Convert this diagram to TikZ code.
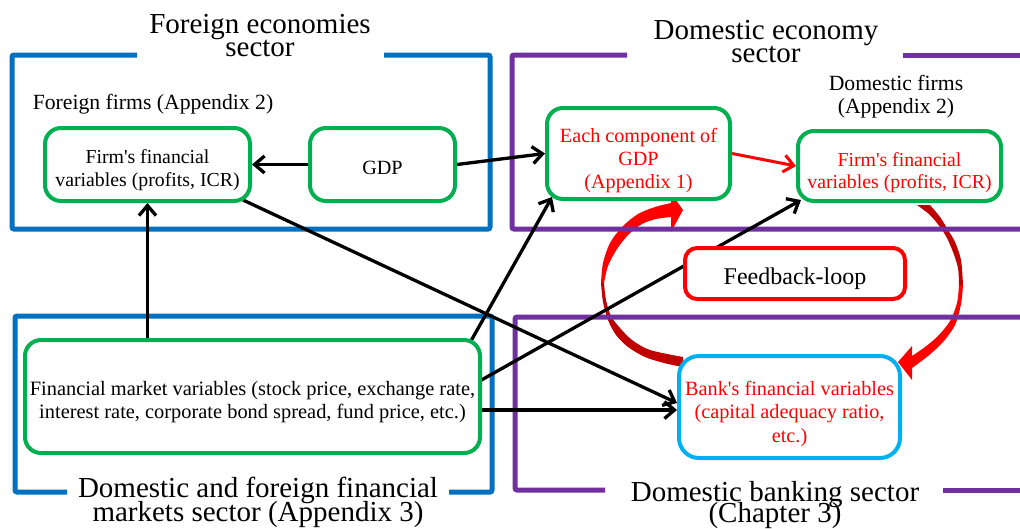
\documentclass[tikz,border=0pt]{standalone}
\usepackage{fontspec}
\setmainfont{Liberation Serif}
\usetikzlibrary{arrows.meta,calc}

\definecolor{secblue}{HTML}{0070C0}
\definecolor{secpurple}{HTML}{7030A0}
\definecolor{boxgreen}{HTML}{00B050}
\definecolor{loopred}{HTML}{FF0000}
\definecolor{loopdark}{HTML}{C00000}
\definecolor{bankcyan}{HTML}{00B0F0}

\newcommand\fsz[2]{\fontsize{#1}{#2}\selectfont\lineskiplimit=-100pt\relax}

\pgfdeclarelayer{back}
\pgfsetlayers{back,main}

\tikzset{
  secframe/.style={line width=5pt, rounded corners=2pt},
  sectitle/.style={inner sep=0pt, align=center, font=\fsz{29}{23}},
  lbl/.style={inner sep=0pt, align=center, font=\fsz{21.7}{23}},
  roundbox/.style={fill=white, line width=4pt, inner sep=0pt, align=center,
    font=\fsz{20.2}{23}},
  gbox/.style={roundbox, draw=boxgreen, rounded corners=16pt},
  fbbox/.style={roundbox, draw=loopred, rounded corners=12pt, font=\fsz{24}{26}},
  bankbox/.style={roundbox, draw=bankcyan, rounded corners=20pt, text=loopred,
    font=\fsz{20.3}{23.5}},
  blackarrow/.style={draw=black, line width=3.3pt,
    -{Straight Barb[length=10pt,width=17pt]}},
  redarrow/.style={draw=loopred, line width=3pt,
    -{Straight Barb[length=10pt,width=17pt]}},
}

\begin{document}
\begin{tikzpicture}[x=1pt,y=-1pt]
\useasboundingbox (0,0) rectangle (1020,528);

% ---- sector titles ----
\node[sectitle] (t1) at (260,35.8) {Foreign economies\\sector};
\node[sectitle] (t2) at (766,41.8) {Domestic economy\\sector};
\node[sectitle, font=\fsz{29}{24}] (t3) at (258,502.2) {Domestic and foreign financial\\markets sector (Appendix 3)};
\node[sectitle, font=\fsz{29}{21}] (t4) at (775,504.7) {Domestic banking sector\\(Chapter 3)};

% ---- group labels ----
\node[lbl, anchor=base] (fflab) at (153,109) {Foreign firms (Appendix 2)};
\node[lbl] (dflab) at (896,96.6) {Domestic firms\\(Appendix 2)};

% ---- variable boxes ----
\node[gbox, minimum width=205pt, minimum height=73pt, font=\fsz{19.8}{23}] (ff) at (147.5,164.5)
  {\rule{0pt}{24.4pt}Firm\textquotesingle s financial\\variables (profits, ICR)};
\node[gbox, minimum width=145pt, minimum height=73pt] (fgdp) at (382.5,164.5)
  {\rule{0pt}{21pt}GDP};
\node[gbox, minimum width=183pt, minimum height=91pt, text=loopred] (ecg) at (638.5,153.5)
  {\rule{0pt}{27.4pt}Each component of\\GDP\\(Appendix 1)};
\node[gbox, minimum width=203pt, minimum height=70pt, text=loopred, font=\fsz{19.8}{22.5}] (df) at (899.5,166)
  {\rule{0pt}{27pt}Firm\textquotesingle s financial\\variables (profits, ICR)};
\node[gbox, minimum width=455pt, minimum height=113pt, font=\fsz{20.4}{23}] (fin) at (252.5,396.5)
  {\rule{0pt}{24.6pt}Financial market variables (stock price, exchange rate,\\interest rate, corporate bond spread, fund price, etc.)};
\node[bankbox, minimum width=221pt, minimum height=102pt] (bank) at (789.5,407)
  {\rule{0pt}{27.4pt}Bank\textquotesingle s financial variables\\(capital adequacy ratio,\\etc.)};
\node[fbbox, minimum width=220pt, minimum height=51pt] (fb) at (795,273.5)
  {\rule{0pt}{26.2pt}Feedback-loop};

\begin{pgfonlayer}{back}
  \fill[white] (0,0) rectangle (1020,528);

  % feedback loop: two curved arrows with a dark/bright red half each
  \fill[loopred] plot[smooth] coordinates {(601,283) (603,263) (610,243) (622,227) (638,214) (655,207) (671,203)}
    -- (671,193) -- (683,210) -- (671,232)
    -- plot[smooth] coordinates {(671,217) (656,219) (642,224) (629,234) (617,249) (608,266) (604,283)} -- cycle;
  \fill[loopdark] plot[smooth] coordinates {(683,367) (664,363) (645,357) (628,347) (616,335) (608,320) (603,302) (601,283)}
    -- plot[smooth] coordinates {(604,283) (606,300) (611,316) (620,328) (632,340) (650,350) (683,357)} -- cycle;
  \fill[loopdark] plot[smooth] coordinates {(917,205) (930,215) (940,227) (947,238) (953,252) (958,268) (959,285)}
    -- plot[smooth] coordinates {(963,285) (961,260) (955,242) (948,230) (940,217) (930,205)} -- cycle;
  \fill[loopred] plot[smooth] coordinates {(963,285) (961,304) (955,325) (943,342) (928,356) (912,368)}
    -- (912,380) -- (898,362) -- (912,346)
    -- plot[smooth] coordinates {(912,356) (925,347) (938,336) (950,321) (957,303) (959,285)} -- cycle;

  % sector frames, open where the titles sit
  \draw[secframe, draw=secblue] (137,55) -- (12,55) -- (12,229) -- (490,229) -- (490,55) -- (384,55);
  \draw[secframe, draw=secpurple] (627,55) -- (512,55) -- (512,229) -- (1020,229);
  \draw[secframe, draw=secpurple] (903,55) -- (1020,55);
  \draw[secframe, draw=secblue] (67,492) -- (15,492) -- (15,316) -- (492,316) -- (492,492) -- (449,492);
  \draw[secframe, draw=secpurple] (1020,317) -- (515,317) -- (515,490) -- (605,490);
  \draw[secframe, draw=secpurple] (943,490) -- (1020,490);

  % influences between variables
  \draw[blackarrow] (fgdp.west) -- (ff.east);
  \draw[blackarrow] (fgdp.east) -- (ecg.west);
  \draw[blackarrow] (ff.south |- fin.north) -- (ff.south);
  \draw[blackarrow] ($(ff.south east)+(-9,-3)$) -- ($(bank.west)+(0,-4)$);
  \coordinate (hb) at ($(bank.west)+(0,3)$);
  \draw[blackarrow] (fin.east |- hb) -- (hb);
  \draw[blackarrow] ($(fin.north east)+(-15,10)$) -- ($(ecg.south west)+(7,-4)$);
  \draw[blackarrow] ($(fin.east)+(-5,-14)$) -- ($(df.south west)+(5,-3)$);
  \draw[redarrow] (ecg.east) -- (df.west);
\end{pgfonlayer}
\end{tikzpicture}
\end{document}
